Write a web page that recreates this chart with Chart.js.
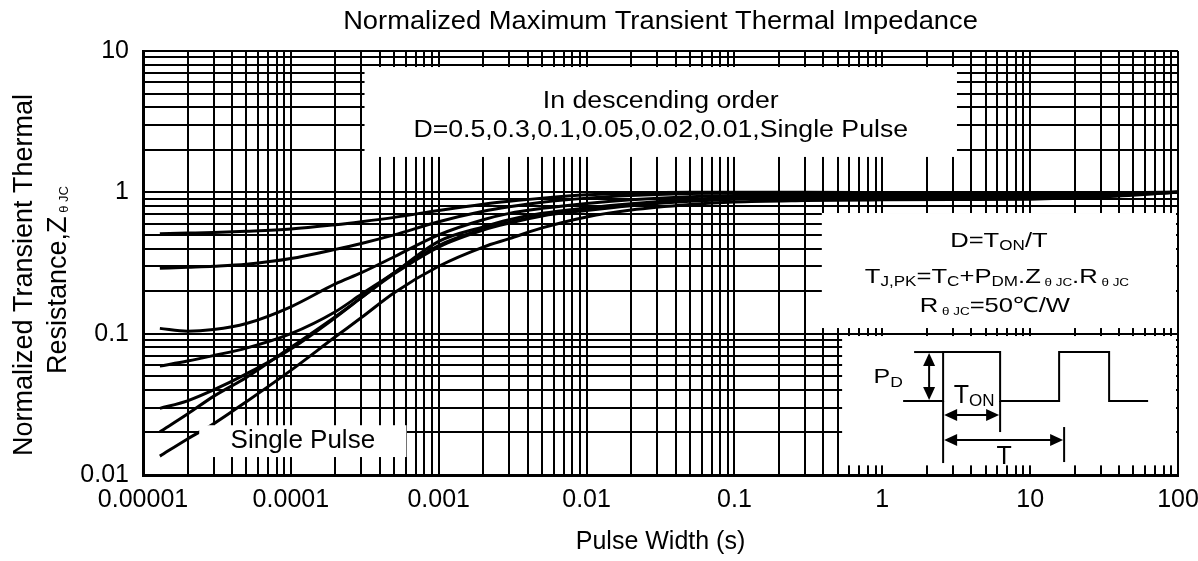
<!DOCTYPE html>
<html>
<head>
<meta charset="utf-8">
<title>Normalized Maximum Transient Thermal Impedance</title>
<script src="https://cdn.jsdelivr.net/npm/chart.js@4.4.1/dist/chart.umd.min.js"></script>
<style>
  html, body { margin: 0; padding: 0; background: #fff; }
  #wrap { width: 1198px; height: 561px; }
</style>
</head>
<body>
<div id="wrap"><canvas id="zth"></canvas></div>
<script>
const pulseWidth = [1.3e-5, 2e-5, 3e-5, 5e-5, 1e-4, 2e-4, 3e-4, 5e-4, 1e-3, 2e-3, 3e-3, 5e-3, 1e-2, 2e-2, 5e-2, 0.1, 0.3, 1, 3, 10, 30, 100];

const zD50 = [0.51, 0.515, 0.52, 0.53, 0.55, 0.59, 0.62, 0.665, 0.745, 0.825, 0.865, 0.91, 0.96, 0.985, 1.0, 1.0, 1.0, 0.995, 0.99, 0.99, 0.995, 1.0];
const zD30 = [0.29, 0.295, 0.30, 0.31, 0.34, 0.395, 0.435, 0.50, 0.62, 0.735, 0.79, 0.85, 0.91, 0.95, 0.98, 0.99, 0.99, 0.985, 0.98, 0.98, 0.99, 1.0];
const zD10 = [0.109, 0.104, 0.107, 0.118, 0.155, 0.225, 0.27, 0.35, 0.5, 0.64, 0.71, 0.77, 0.835, 0.885, 0.93, 0.95, 0.96, 0.96, 0.96, 0.965, 0.98, 1.0];
const zD05 = [0.059, 0.064, 0.070, 0.079, 0.10, 0.143, 0.19, 0.27, 0.45, 0.57, 0.64, 0.71, 0.775, 0.83, 0.89, 0.92, 0.94, 0.945, 0.95, 0.955, 0.97, 1.0];
const zD02 = [0.0296, 0.0335, 0.040, 0.052, 0.078, 0.13, 0.18, 0.27, 0.42, 0.55, 0.615, 0.69, 0.755, 0.815, 0.875, 0.905, 0.925, 0.93, 0.935, 0.94, 0.96, 1.0];
const zD01 = [0.0202, 0.027, 0.036, 0.049, 0.08, 0.132, 0.18, 0.265, 0.41, 0.54, 0.605, 0.68, 0.745, 0.805, 0.865, 0.895, 0.915, 0.92, 0.925, 0.93, 0.955, 1.0];
const zSingle = [0.0136, 0.018, 0.023, 0.033, 0.055, 0.095, 0.13, 0.195, 0.30, 0.41, 0.47, 0.56, 0.67, 0.75, 0.82, 0.855, 0.875, 0.885, 0.89, 0.895, 0.93, 1.0];

const seriesNames = ["D=0.5", "D=0.3", "D=0.1", "D=0.05", "D=0.02", "D=0.01", "Single Pulse"];
const seriesValues = [zD50, zD30, zD10, zD05, zD02, zD01, zSingle];

const xDecades = [1e-5, 1e-4, 1e-3, 1e-2, 0.1, 1, 10, 100];
const xTickLabels = ["0.00001", "0.0001", "0.001", "0.01", "0.1", "1", "10", "100"];
const yDecades = [0.01, 0.1, 1, 10];
const yTickLabels = ["0.01", "0.1", "1", "10"];

// white label panels, in axis units: [x from, x to], [y top, y bottom]
const panels = {
  order:   { x: [3.15e-4, 3.2],   y: [7.7, 1.78] },
  single:  { x: [2.4e-5, 6.05e-4], y: [0.0225, 0.0134] },
  formula: { x: [0.39, 100],      y: [0.714, 0.1096] },
  diagram: { x: [0.535, 100],     y: [0.0962, 0.0117] },
};

const FONT = "'Liberation Sans', Arial, sans-serif";
Chart.defaults.font.family = FONT;
Chart.defaults.color = "#000";

// 1..9 x every decade, for the grid
function gridTicks(decades) {
  const out = [];
  decades.forEach((d, i) => {
    if (i === decades.length - 1) { out.push(d); return; }
    for (let k = 1; k <= 9; k++) out.push(+(d * k).toPrecision(3));
  });
  return out;
}

function decadeLabel(value, decades, labels) {
  const i = decades.findIndex(d => Math.abs(d - value) / d < 1e-6);
  return i >= 0 ? labels[i] : "";
}

// text made of runs [text, size, dy], centered on cx, stretched by sx
function drawRuns(ctx, runs, cx, baseline, sx) {
  ctx.save();
  ctx.translate(cx, baseline);
  ctx.scale(sx || 1, 1);
  let total = 0;
  const widths = runs.map(r => {
    ctx.font = r[1] + "px " + FONT;
    const w = ctx.measureText(r[0]).width;
    total += w;
    return w;
  });
  let x = -total / 2;
  ctx.textAlign = "left";
  ctx.textBaseline = "alphabetic";
  runs.forEach((r, i) => {
    ctx.font = r[1] + "px " + FONT;
    ctx.fillText(r[0], x, r[2] || 0);
    x += widths[i];
  });
  ctx.restore();
}

function arrowHead(ctx, x, y, dx, dy) {
  // tip at (x, y), pointing along (dx, dy)
  const len = 13, half = 6;
  ctx.beginPath();
  ctx.moveTo(x, y);
  ctx.lineTo(x - dx * len - dy * half, y - dy * len + dx * half);
  ctx.lineTo(x - dx * len + dy * half, y - dy * len - dx * half);
  ctx.closePath();
  ctx.fill();
}

function drawDiagram(ctx, bx, by) {
  ctx.save();
  ctx.strokeStyle = "#000";
  ctx.fillStyle = "#000";
  ctx.lineWidth = 2;
  const line = pts => {
    ctx.beginPath();
    ctx.moveTo(bx + pts[0][0], by + pts[0][1]);
    for (let i = 1; i < pts.length; i++) ctx.lineTo(bx + pts[i][0], by + pts[i][1]);
    ctx.stroke();
  };
  // waveform
  line([[61, 65], [101, 65], [101, 16], [158, 16], [158, 65], [217, 65], [217, 16], [267, 16], [267, 65], [306, 65]]);
  line([[72, 16], [101, 16]]);
  line([[101, 65], [101, 127]]);
  line([[158, 65], [158, 96]]);
  line([[222, 91], [222, 126]]);
  // P_D arrow
  line([[87, 28], [87, 53]]);
  arrowHead(ctx, bx + 87, by + 17, 0, -1);
  arrowHead(ctx, bx + 87, by + 64, 0, 1);
  // T_ON arrow
  line([[113, 79], [146, 79]]);
  arrowHead(ctx, bx + 102, by + 79, -1, 0);
  arrowHead(ctx, bx + 157, by + 79, 1, 0);
  // T arrow
  line([[113, 104], [210, 104]]);
  arrowHead(ctx, bx + 102, by + 104, -1, 0);
  arrowHead(ctx, bx + 221, by + 104, 1, 0);
  ctx.restore();

  ctx.fillStyle = "#000";
  drawRuns(ctx, [["P", 20], ["D", 14, 4]], bx + 46, by + 47, 1.25);
  drawRuns(ctx, [["T", 25], ["ON", 17, 3]], bx + 132, by + 67, 1);
  drawRuns(ctx, [["T", 25]], bx + 162, by + 128, 1);
}

const panelPlugin = {
  id: "panels",
  afterDatasetsDraw(chart) {
    const { ctx, scales: { x, y }, chartArea } = chart;
    const box = p => {
      const l = x.getPixelForValue(p.x[0]);
      const r = Math.min(x.getPixelForValue(p.x[1]), chartArea.right - 2);
      const t = y.getPixelForValue(p.y[0]);
      const b = Math.min(y.getPixelForValue(p.y[1]), chartArea.bottom - 2);
      return { l, t, r, b, cx: (l + r) / 2 };
    };
    const b = {};
    ctx.save();
    ctx.fillStyle = "#fff";
    for (const k in panels) {
      b[k] = box(panels[k]);
      ctx.fillRect(b[k].l, b[k].t, b[k].r - b[k].l, b[k].b - b[k].t);
    }
    ctx.fillStyle = "#000";

    drawRuns(ctx, [["In descending order", 23]], b.order.cx, b.order.t + 41, 1.16);
    drawRuns(ctx, [["D=0.5,0.3,0.1,0.05,0.02,0.01,Single Pulse", 23]], b.order.cx, b.order.t + 70, 1.16);

    drawRuns(ctx, [["Single Pulse", 26]], b.single.cx, b.single.t + 23, 1);

    const f = b.formula, sx = 1.22;
    drawRuns(ctx, [["D=T", 21], ["ON", 14, 3], ["/T", 21]], f.cx, f.t + 34, sx);
    drawRuns(ctx, [
      ["T", 21], ["J,PK", 14, 3], ["=T", 21], ["C", 14, 3], ["+P", 21], ["DM", 14, 3],
      [".Z", 21], [" \u03b8 JC", 11, 3], [".R", 21], [" \u03b8 JC", 11, 3]
    ], f.cx - 2, f.t + 70, sx);
    drawRuns(ctx, [["R", 21], [" \u03b8 JC", 11, 3], ["=50\u2103/W", 21]], f.cx - 4, f.t + 99, sx);

    drawDiagram(ctx, b.diagram.l, b.diagram.t);
    ctx.restore();
  },
  afterDraw(chart) {
    const { ctx, chartArea } = chart;
    ctx.save();
    ctx.fillStyle = "#000";
    drawRuns(ctx, [["Normalized Maximum Transient Thermal Impedance", 26]], (chartArea.left + chartArea.right) / 2, 29, 1.05);
    ctx.rotate(-Math.PI / 2);
    // rotated: x -> -y
    drawRuns(ctx, [["Normalized Transient Thermal", 27]], -275, 32, 1);
    drawRuns(ctx, [["Resistance,Z", 27], [" \u03b8 JC", 13, 2]], -280, 66, 1);
    ctx.restore();
  }
};

const datasets = seriesNames.map((name, s) => ({
  label: name,
  data: pulseWidth.map((t, i) => ({ x: t, y: seriesValues[s][i] })),
  borderColor: "#000",
  borderWidth: 3,
  pointRadius: 0,
  cubicInterpolationMode: "monotone",
  fill: false,
}));

new Chart(document.getElementById("zth"), {
  type: "line",
  data: { datasets },
  options: {
    responsive: true,
    maintainAspectRatio: false,
    animation: false,
    layout: { padding: { left: 0, right: 0, top: 51, bottom: 0 } },
    plugins: {
      legend: { display: false },
      tooltip: { enabled: false },
      title: { display: false },
    },
    scales: {
      x: {
        type: "logarithmic",
        min: 1e-5,
        max: 100,
        afterBuildTicks: scale => { scale.ticks = gridTicks(xDecades).map(v => ({ value: v })); },
        afterFit: scale => {
          scale.height = 86;
          scale.paddingLeft = 0;
          scale.paddingRight = 20; // "100" hangs past the right edge
        },
        grid: { color: "#000", lineWidth: 2, drawTicks: false },
        border: { color: "#000", width: 3 },
        ticks: {
          autoSkip: false,
          maxRotation: 0,
          padding: 10,
          font: { size: 25 },
          color: "#000",
          callback: v => decadeLabel(v, xDecades, xTickLabels),
        },
        title: {
          display: true,
          text: "Pulse Width (s)",
          font: { size: 25 },
          color: "#000",
          padding: { top: 0, bottom: 4 },
        },
      },
      y: {
        type: "logarithmic",
        min: 0.01,
        max: 10,
        afterBuildTicks: scale => { scale.ticks = gridTicks(yDecades).map(v => ({ value: v })); },
        afterFit: scale => { scale.width = 143; },
        grid: { color: "#000", lineWidth: 2, drawTicks: false },
        border: { color: "#000", width: 3 },
        ticks: {
          autoSkip: false,
          padding: 14,
          font: { size: 25 },
          color: "#000",
          callback: v => decadeLabel(v, yDecades, yTickLabels),
        },
      },
    },
  },
  plugins: [panelPlugin],
});
</script>
</body>
</html>
